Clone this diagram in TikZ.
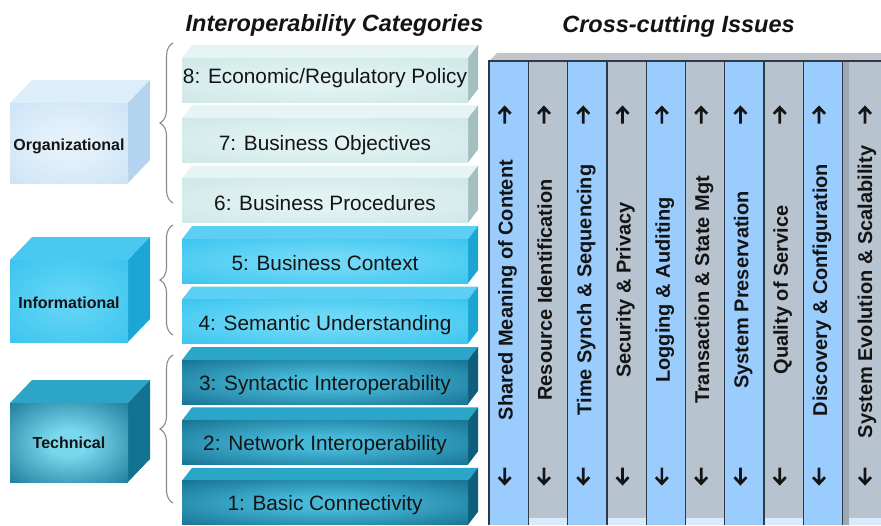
\documentclass[tikz,border=0pt]{standalone}
\usepackage{fontspec}
\setmainfont{Liberation Sans}
\usetikzlibrary{decorations.pathreplacing}
\colorlet{glowin}{white}
\colorlet{glowout}{black}
\pgfdeclareradialshading[glowin,glowout]{glow}{\pgfpoint{0bp}{0bp}}{color(0bp)=(glowin); color(8bp)=(glowin); color(40bp)=(glowout); color(50bp)=(glowout)}
% bars
\definecolor{orgIn}{HTML}{E2F3F3}
\definecolor{orgOut}{HTML}{CDE6E6}
\definecolor{orgTop}{HTML}{E6F4F4}
\definecolor{orgSide}{HTML}{A3BFC0}
\definecolor{infIn}{HTML}{6FD8F7}
\definecolor{infOut}{HTML}{33C3EE}
\definecolor{infTop}{HTML}{5CD0F4}
\definecolor{infSide}{HTML}{1CA5D2}
\definecolor{tecIn}{HTML}{46B8D8}
\definecolor{tecOut}{HTML}{10698A}
\definecolor{tecTop}{HTML}{2AA6C8}
\definecolor{tecSide}{HTML}{0E5E7C}
% cubes
\definecolor{corgIn}{HTML}{E4F1FB}
\definecolor{corgOut}{HTML}{C9E2F5}
\definecolor{corgTop}{HTML}{DCEEFA}
\definecolor{corgSide}{HTML}{B4D3EE}
\definecolor{cinfIn}{HTML}{5FD3F5}
\definecolor{cinfOut}{HTML}{36C2EE}
\definecolor{cinfTop}{HTML}{49C9F1}
\definecolor{cinfSide}{HTML}{1CA6D5}
\definecolor{ctecIn}{HTML}{7AD8EE}
\definecolor{ctecOut}{HTML}{137090}
\definecolor{ctecTop}{HTML}{2CA5C6}
\definecolor{ctecSide}{HTML}{127290}
% columns
\definecolor{colblue}{HTML}{9ACDFD}
\definecolor{colgray}{HTML}{B7C3CF}
\definecolor{colline}{HTML}{2D3A48}
\definecolor{topgray}{HTML}{C2C6CA}
\definecolor{basestrip}{HTML}{D9EBFB}
\definecolor{shadowgray}{HTML}{9DA8B3}
\definecolor{bracegray}{HTML}{8A8A8A}

\tikzset{
  glowfill/.style 2 args={shading=glow, /utils/exec={\colorlet{glowin}{#1}\colorlet{glowout}{#2}}},
  barlabel/.style={font=\fontsize{20.8}{22}\selectfont, text=black!92, anchor=base, inner sep=0pt},
  cubelabel/.style={font=\bfseries\fontsize{16}{18}\selectfont, text=black!92, anchor=base, inner sep=0pt},
  collabel/.style={font=\bfseries\fontsize{20}{22}\selectfont, text=black!92, rotate=90, anchor=base, inner sep=0pt},
  titletext/.style={font=\bfseries\itshape\fontsize{23.5}{26}\selectfont, text=black!92, anchor=base, inner sep=0pt},
  arrowline/.style={black!92, line width=2.7pt, line cap=butt, line join=miter},
  uparr/.pic={\draw[arrowline] (0,8.5) -- (0,-6.5) (-6,-1.2) -- (0,-7.6) -- (6,-1.2);},
  downarr/.pic={\draw[arrowline] (0,-8.5) -- (0,6.5) (-6,1.2) -- (0,7.6) -- (6,1.2);},
  grpbrace/.style={bracegray, line width=1.1pt, decorate, decoration={brace, amplitude=13pt}},
  colrule/.style={colline, line width=1.3pt},
}

% #1 front top y, #2 name, #3 text, #4 colour prefix, #5 text baseline y
\newcommand{\catbar}[5]{%
  \fill[#4Top] (182,#1) -- (192,#1-13) -- (478,#1-13) -- (468,#1) -- cycle;
  \fill[#4Side] (468,#1) -- (478,#1-13) -- (478,#1+31) -- (468,#1+44) -- cycle;
  \shade[glowfill={#4In}{#4Out}] (182,#1) rectangle (468,#1+44);
  \node[barlabel] (#2) at (325,#5) {#3};
}
% #1 front top, #2 front bottom, #3 name, #4 text, #5 prefix, #6 baseline
\newcommand{\catcube}[6]{%
  \fill[#5Top] (10,#1) -- (32,#1-23) -- (150,#1-23) -- (128,#1) -- cycle;
  \fill[#5Side] (128,#1) -- (150,#1-23) -- (150,#2-23) -- (128,#2) -- cycle;
  \shade[glowfill={#5In}{#5Out}] (10,#1) rectangle (128,#2);
  \node[cubelabel] (#3) at (69,#6) {#4};
}

\begin{document}
\begin{tikzpicture}[x=1pt,y=-1pt]
\useasboundingbox (0,0) rectangle (881,525);
\fill[white] (0,0) rectangle (881,525);

% titles
\node[titletext] (tleft) at (334.5,31.5) {Interoperability Categories};
\node[titletext] (tright) at (678.5,32) {Cross-cutting Issues};

% cross-cutting columns
\fill[topgray] (489,61) -- (497,53) -- (881,53) -- (881,61) -- cycle;
\foreach \i/\c in {0/colblue,1/colgray,2/colblue,3/colgray,4/colblue,5/colgray,6/colblue,7/colgray,8/colblue}{
  \fill[\c] ({489+39.3*\i},61) rectangle ({528.3+39.3*\i},525);
}
\fill[colgray] (842.7,61) rectangle (881,525);
\fill[shadowgray] (842.7,61) rectangle (848.5,525);
\foreach \i in {1,3,5,7}{
  \fill[basestrip] ({489+39.3*\i},518) rectangle ({528.3+39.3*\i},525);
}
\fill[basestrip] (848.5,518) rectangle (881,525);
\foreach \i in {0,...,9}{
  \draw[colrule] ({489+39.3*\i},61) -- ({489+39.3*\i},525);
}
\draw[colrule] (488.35,61) -- (881,61);

\foreach \i/\t in {0/Shared Meaning of Content,1/Resource Identification,2/Time Synch \& Sequencing,3/Security \& Privacy,4/Logging \& Auditing,5/Transaction \& State Mgt,6/System Preservation,7/Quality of Service,8/Discovery \& Configuration}{
  \node[collabel] (c\i) at ({508.65+39.3*\i+4},290) {\t};
  \pic (u\i) at ({504.65+39.3*\i},115) {uparr};
  \pic (d\i) at ({504.65+39.3*\i},476) {downarr};
}
\node[collabel] (c9) at (872,292) {System Evolution \& Scalability};
\pic (u9) at (865,115) {uparr};
\pic (d9) at (865,476) {downarr};

% category bars
\catbar{58}{b8}{8: Economic/Regulatory Policy}{org}{83}
\catbar{118.4}{b7}{7: Business Objectives}{org}{150}
\catbar{178.8}{b6}{6: Business Procedures}{org}{210}
\catbar{239.2}{b5}{5: Business Context}{inf}{270}
\catbar{299.6}{b4}{4: Semantic Understanding}{inf}{330}
\catbar{360}{b3}{3: Syntactic Interoperability}{tec}{390}
\catbar{420.4}{b2}{2: Network Interoperability}{tec}{450}
\catbar{480.8}{b1}{1: Basic Connectivity}{tec}{510}

% group cubes
\catcube{103}{183}{org}{Organizational}{corg}{150}
\catcube{260}{342}{inf}{Informational}{cinf}{308}
\catcube{403}{482}{tec}{Technical}{ctec}{448}

% braces
\draw[grpbrace] (173,203) -- (173,43);
\draw[grpbrace] (173,335) -- (173,225);
\draw[grpbrace] (173,503) -- (173,355);
\end{tikzpicture}
\end{document}
